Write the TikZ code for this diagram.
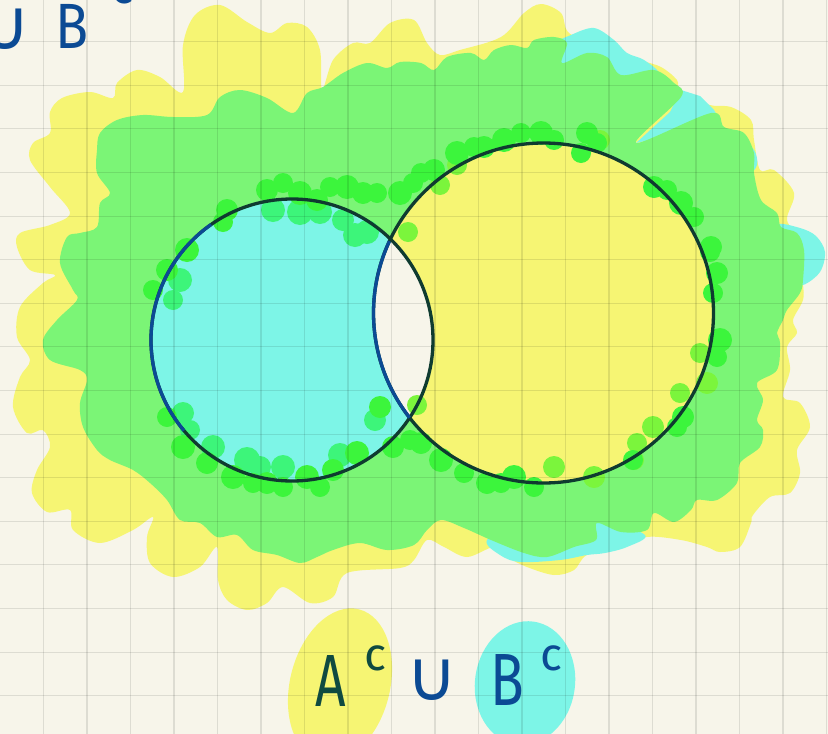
\documentclass[tikz,border=0pt]{standalone}
\usepackage{graphicx}
\usepackage{fontspec}
\setmainfont{Fira Sans}
\newfontfamily\symfont{DejaVu Sans}
\definecolor{bg}{HTML}{F7F5EA}
\definecolor{yel}{HTML}{F6F573}
\definecolor{cya}{HTML}{7DF5E7}
\definecolor{grn}{HTML}{7BF576}
\definecolor{bgrn}{HTML}{3CF53C}
\definecolor{cgrn}{HTML}{3DF57A}
\definecolor{ygrn}{HTML}{7BF53C}
\definecolor{ink}{HTML}{0F3B30}
\definecolor{blu}{HTML}{0B4A94}
\definecolor{tea}{HTML}{0F4A40}
\tikzset{
  blob/.style={smooth cycle, tension=0.55},
  gridline/.style={draw=black, draw opacity=0.10, line width=1.1pt},
  ring/.style={draw=ink, line width=3.3pt},
  bluering/.style={draw=blu, line width=3.3pt},
  bigtxt/.style={inner sep=0pt, font=\fontsize{74}{74}\selectfont},
  suptxt/.style={inner sep=0pt, font=\fontsize{46}{46}\selectfont},
  cuptxt/.style={inner sep=0pt, font=\symfont\fontsize{70}{70}\selectfont}
}
\begin{document}
\begin{tikzpicture}[x=1pt,y=-1pt]
\useasboundingbox (0,0) rectangle (828,734);
\fill[bg] (0,0) rectangle (828,734);
% outer yellow
\fill[yel] plot[blob] coordinates {(30,160) (33,143) (50,133) (50,112) (62,98) (90,92) (113,98) (117,83) (137,70) (160,77) (183,92) (183,45) (195,15) (220,5) (247,22) (270,33) (287,23) (307,27) (320,50) (322,90) (333,60) (353,43) (370,43) (390,23) (414,20) (427,43) (440,55) (460,50) (501,37) (524,13) (541,4) (561,13) (569,33) (600,45) (640,60) (661,67) (677,80) (681,93) (710,105) (731,107) (751,120) (754,140) (760,170) (774,170) (794,193) (787,220) (800,240) (803,283) (803,300) (793,320) (797,333) (787,347) (790,370) (783,397) (800,403) (810,427) (797,450) (800,473) (790,493) (770,497) (753,515) (751,523) (740,547) (720,552) (707,547) (681,540) (647,537) (620,548) (587,555) (574,570) (554,575) (527,567) (507,557) (494,547) (467,557) (444,547) (427,540) (414,560) (400,568) (347,573) (333,597) (310,603) (283,587) (267,603) (247,610) (227,600) (218,580) (217,547) (200,567) (173,577) (150,563) (147,537) (153,517) (133,530) (100,543) (73,530) (70,510) (47,512) (32,493) (37,470) (50,447) (43,430) (27,433) (13,407) (20,377) (30,360) (17,337) (20,307) (43,283) (55,275) (30,270) (17,247) (20,233) (50,225) (70,213) (50,187)};
% cyan peeks
\fill[cya] plot[blob] coordinates {(555,45) (571,35) (594,28) (614,40) (627,53) (644,60) (660,75) (650,95) (600,90) (560,70)};
\fill[cya] (681,90) -- (700,96) -- (714,110) -- (722,124) -- (636,143) -- (670,112) -- cycle;
\fill[cya] plot[blob] coordinates {(740,140) (754,150) (757,165) (747,175) (730,165)};
\fill[cya] plot[blob] coordinates {(777,225) (800,228) (816,236) (825,252) (820,272) (803,285) (790,280) (785,250)};
\fill[cya] plot[blob] coordinates {(487,540) (500,555) (520,562) (560,560) (587,555) (605,553) (627,547) (645,535) (600,520) (520,520)};
% green
\fill[grn] plot[blob] coordinates {(97,150) (100,133) (117,120) (143,115) (173,117) (207,115) (220,97) (240,90) (267,98) (293,113) (307,93) (323,87) (343,73) (367,63) (387,68) (400,62) (421,63) (434,70) (447,57) (471,53) (484,60) (494,50) (511,45) (527,48) (534,40) (554,37) (567,43) (562,63) (587,53) (607,57) (621,75) (654,70) (674,83) (681,97) (636,143) (711,113) (724,127) (744,133) (754,153) (754,173) (761,200) (777,213) (781,227) (797,233) (804,250) (803,280) (800,293) (787,310) (783,320) (777,333) (780,343) (777,370) (757,383) (763,400) (757,420) (763,430) (760,447) (740,463) (737,483) (717,500) (697,500) (691,510) (674,522) (654,513) (647,530) (621,532) (597,523) (596,540) (574,547) (547,557) (524,553) (491,540) (464,528) (441,520) (427,530) (414,545) (387,550) (360,543) (333,550) (317,557) (300,563) (277,555) (253,550) (237,535) (217,537) (200,523) (180,520) (167,500) (150,483) (133,470) (110,460) (97,450) (83,427) (80,403) (87,380) (80,370) (50,360) (43,340) (57,320) (77,300) (73,290) (60,263) (67,237) (80,233) (97,227) (100,203) (110,193) (97,173)};
% circle interiors
\fill[cya] (292,340) circle (141);
\fill[yel] (543.5,313) circle (170);
\begin{scope}
  \clip (292,340) circle (141);
  \fill[bg] (543.5,313) circle (170);
\end{scope}
% brush dots
\foreach \px/\py/\r in {273/210/12,300/212/13,320/212/12,343/220/11,367/232/12,180/280/12,173/300/10,183/413/11,213/447/12,247/460/13,260/467/11,283/467/12,340/455/12,375/420/11,355/235/12,190/430/10}
  \fill[cgrn] (\px,\py) circle (\r);
\foreach \px/\py/\r in {700/353/10,707/383/11,680/393/10,653/427/11,637/443/10,594/477/11,634/460/10,554/467/11,457/165/10,440/185/10,600/140/10,417/405/10,408/232/10}
  \fill[ygrn] (\px,\py) circle (\r);
\foreach \px/\py/\r in {267/190/11,283/183/10,300/193/12,317/200/11,330/187/10,347/187/12,363/193/11,377/193/10,400/193/12,413/183/10,227/210/11,223/222/10,187/250/12,167/270/11,153/290/10,167/417/10,183/447/12,207/463/11,233/477/12,253/483/10,267/483/11,283/487/10,307/477/12,320/487/10,333/470/11,357/453/12,393/447/11,410/440/10,380/407/11,421/173/10,434/170/11,457/153/12,474/147/10,484/147/11,504/140/12,521/133/10,541/133/12,554/140/10,587/133/11,597/143/10,581/153/10,654/187/11,667/190/10,681/203/12,694/217/10,711/247/11,710/252/10,717/273/11,713/293/10,720/340/12,717/357/10,683/417/11,677/427/10,633/460/10,421/443/11,441/460/12,464/473/10,487/483/11,501/483/10,514/477/12,534/487/10}
  \fill[bgrn] (\px,\py) circle (\r);
% bottom label highlights
\fill[yel, rotate around={-14:(340,685)}] (340,685) ellipse (50 and 78);
\fill[cya, rotate around={-8:(525,683)}] (525,683) ellipse (50 and 62);
% grid
\foreach \i in {1,...,19} \draw[gridline] (43.5*\i,0) -- (43.5*\i,734);
\foreach \j in {0,...,15} \draw[gridline] (0,41.7+43.6*\j) -- (828,41.7+43.6*\j);
% circles
\draw[ring] (292,340) circle (141);
\draw[ring] (543.5,313) circle (170);
\draw[bluering] (292,340) ++(140:141) arc[start angle=140, end angle=235, radius=141];
\draw[bluering] (543.5,313) ++(142:170) arc[start angle=142, end angle=205, radius=170];
% texts
\node[bigtxt, text=tea] (tA) at (331,681) {\scalebox{0.72}[1]{A}};
\node[suptxt, text=tea] (tAc) at (375,658) {c};
\node[cuptxt, text=blu] (tcup) at (432,680) {∪};
\node[bigtxt, text=blu] (tB) at (507,680) {\scalebox{0.75}[1]{B}};
\node[suptxt, text=blu] (tBc) at (551,658) {c};
\node[cuptxt, text=blu] (ocup) at (5,29) {∪};
\node[bigtxt, text=blu, font=\fontsize{64}{64}\selectfont] (oB) at (72,26) {\scalebox{0.85}[1]{B}};
\node[suptxt, text=blu] (oBc) at (122,-9) {c};
\end{tikzpicture}
\end{document}
